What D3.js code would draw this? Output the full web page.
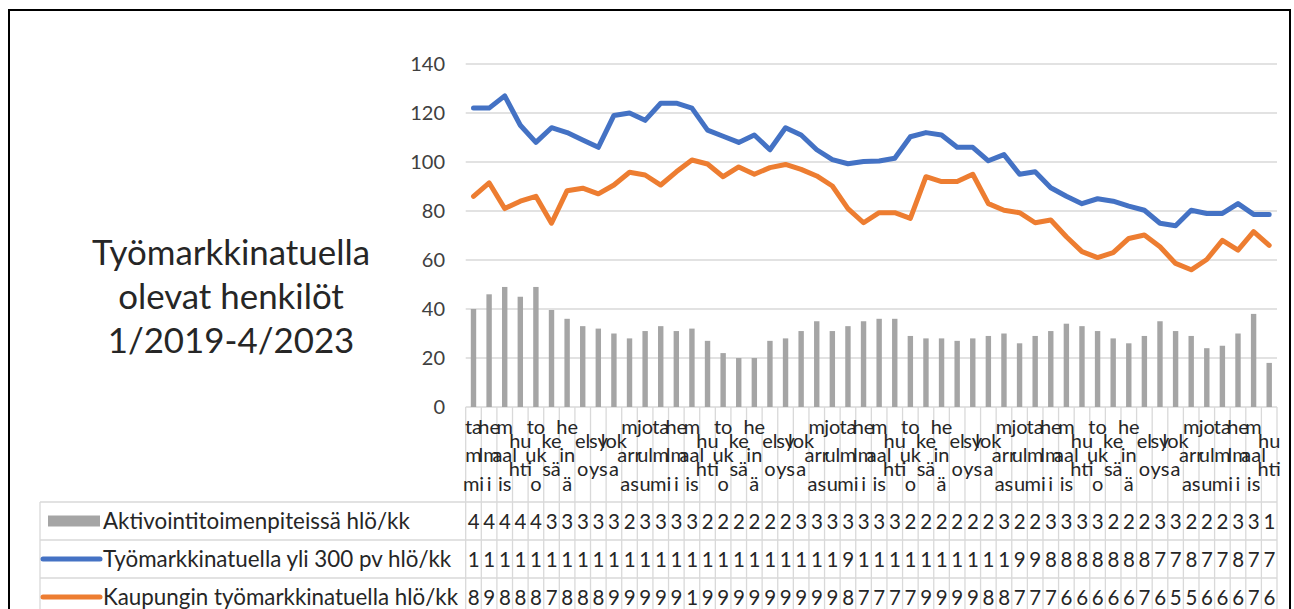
<!DOCTYPE html>
<html><head><meta charset="utf-8">
<script src="https://cdn.jsdelivr.net/npm/d3@7"></script>
<style>
body{margin:0;background:#fff}
svg{display:block}
text{font-family:Lato,"Noto Sans",sans-serif}
</style>
</head><body>
<svg id="c" width="1294" height="609"></svg>
<script>
// ---- data ----
const monthLabels = ["ta|m|mi","he|lm|i","m|aal|is","hu|hti","to|uk|o","ke|sä","he|in|ä","el|o","sy|ys","lok|a","m|arr|as","jo|ul|u"];
const startYear = 2019, monthCount = 52;
const yTicks = [0,20,40,60,80,100,120,140];
const titleLines = ["Työmarkkinatuella","olevat henkilöt","1/2019-4/2023"];
const seriesNames = ["Aktivointitoimenpiteissä hlö/kk","Työmarkkinatuella yli 300 pv hlö/kk","Kaupungin työmarkkinatuella hlö/kk"];
const aktivointi = [40,46,49,45,49,39.6,36,33,32,30,28,31,33,31,32,27,22,20,20,27,28,31,35,31,33,35,36,36,29,28,28,27,28,29,30,26,29,31,34,33,31,28,26,29,35,31,29,24,25,30,38,18];
const yli300 = [122,122,127,115,108,114,112,109,106,119,120,117,124,124,122,113,110.5,108,111,105,114,111,105,101,99.3,100.2,100.4,101.5,110.3,112,111,106,106,100.5,103,95,96,89.5,86,83,85,84,82,80.3,75,74,80.3,79,79,83,78.6,78.6];
const kaupungin = [86,91.5,81,84,86,75,88.3,89.3,87,90.6,95.8,94.7,90.6,96,100.8,99.2,94,98,95,97.7,99,97,94.3,90.2,81,75.2,79.3,79.3,77,94,92,92,95,83,80.3,79.3,75.2,76.3,69.5,63.4,61,63,68.8,70.2,65.4,58.6,56,60.2,68,64,71.6,66];

const colors = {bar:"#a5a5a5", blue:"#4472c4", orange:"#ed7d31", grid:"#d9d9d9", text:"#404040"};

const categories = d3.range(monthCount).map(i => `${i%12+1}/${startYear+Math.floor(i/12)}`);
const catLabel = i => monthLabels[i%12];

const svg = d3.select("#c");
const plotL = 465.7, plotR = 1277, y0 = 407, yTop = 64;
const x = d3.scaleBand().domain(categories).range([plotL, plotR]);
const y = d3.scaleLinear().domain([0,140]).range([y0, yTop]);
const bw = x.bandwidth();
const cx = c => x(c) + bw/2;

// outer border
svg.append("rect").attr("x",9).attr("y",10).attr("width",1281).attr("height",640)
  .attr("fill","none").attr("stroke","#000").attr("stroke-width",2);

// gridlines
svg.append("g").selectAll("line").data(yTicks).join("line")
  .attr("x1",plotL).attr("x2",plotR).attr("y1",d=>y(d)).attr("y2",d=>y(d))
  .attr("stroke",colors.grid).attr("stroke-width",1.3);

// y labels
svg.append("g").selectAll("text").data(yTicks).join("text")
  .attr("x",445).attr("y",d=>y(d)).attr("dy","0.35em").attr("text-anchor","end")
  .attr("font-size",20).attr("fill",colors.text).text(d=>d);

// bars
const barW = 5.4;
svg.append("g").selectAll("rect").data(aktivointi).join("rect")
  .attr("x",(d,i)=>cx(categories[i])-barW/2).attr("width",barW)
  .attr("y",d=>y(d)).attr("height",d=>y0-y(d)).attr("fill",colors.bar);

// lines
const line = d3.line().x((d,i)=>cx(categories[i])).y(d=>y(d));
[[yli300,colors.blue],[kaupungin,colors.orange]].forEach(([data,col])=>{
  svg.append("path").datum(data).attr("d",line).attr("fill","none")
    .attr("stroke",col).attr("stroke-width",5).attr("stroke-linejoin","round").attr("stroke-linecap","round");
});

// ---- data table ----
const tableTop = 502, rowH = 38, tableBottom = 640, legL = 40;
const tg = svg.append("g");
tg.selectAll("line.v").data(d3.range(monthCount+1)).join("line")
  .attr("x1",i=>plotL+i*bw).attr("x2",i=>plotL+i*bw).attr("y1",y0).attr("y2",tableBottom)
  .attr("stroke",colors.grid).attr("stroke-width",1.3);
[0,1,2].forEach(r=>{
  tg.append("line").attr("x1",legL).attr("x2",plotR).attr("y1",tableTop+r*rowH).attr("y2",tableTop+r*rowH)
    .attr("stroke",colors.grid).attr("stroke-width",1.3);
});
tg.append("line").attr("x1",legL).attr("x2",legL).attr("y1",tableTop).attr("y2",tableBottom)
  .attr("stroke",colors.grid).attr("stroke-width",1.3);

// month labels
const lineH = 28.5, labCenter = 455;
categories.forEach((c,i)=>{
  const parts = catLabel(i).split("|");
  const n = parts.length;
  parts.forEach((p,k)=>{
    tg.append("text").attr("x",cx(c)).attr("y",labCenter+(k-(n-1)/2)*lineH).attr("dy","0.35em")
      .attr("text-anchor","middle").attr("font-size",20).attr("fill","#262626").text(p);
  });
});

// clip paths per column (cell shows only what fits, as in the reference)
const defs = svg.append("defs");
categories.forEach((c,i)=>{
  defs.append("clipPath").attr("id","cl"+i).append("rect")
    .attr("x",x(c)+0.7).attr("y",tableTop).attr("width",13.2).attr("height",tableBottom-tableTop);
});
const rows = [aktivointi, yli300, kaupungin];
rows.forEach((data,r)=>{
  data.forEach((v,i)=>{
    tg.append("text").attr("clip-path",`url(#cl${i})`)
      .attr("x",x(categories[i])+2).attr("y",tableTop+r*rowH+rowH/2+1).attr("dy","0.35em")
      .attr("font-size",20.5).attr("letter-spacing",2).attr("fill","#262626").text(String(v).replace(".",","));
  });
});

// legend keys + names
const legX = 103;
let legFs = 20;
seriesNames.forEach((nm,r)=>{
  const cy = tableTop + r*rowH + rowH/2;
  if(r===0){
    tg.append("rect").attr("x",48).attr("y",cy-5.5).attr("width",52).attr("height",11).attr("fill",colors.bar);
  } else {
    tg.append("line").attr("x1",43).attr("x2",100).attr("y1",cy).attr("y2",cy)
      .attr("stroke",r===1?colors.blue:colors.orange).attr("stroke-width",5).attr("stroke-linecap","round");
  }
  const t = tg.append("text").attr("x",legX).attr("y",cy).attr("dy","0.35em")
    .attr("font-size",20).attr("fill","#262626").text(nm);
  if(r===0){
    const w = t.node().getComputedTextLength();
    legFs = 20*307/w;
  }
  t.attr("font-size",legFs);
});

// title
const titleG = svg.append("g");
const tys = [253,297,341];
let tfs = 28;
titleLines.forEach((s,k)=>{
  const t = titleG.append("text").attr("x",231).attr("y",tys[k]).attr("dy","0.35em")
    .attr("text-anchor","middle").attr("font-size",tfs).attr("fill","#262626").text(s);
  if(k===0){
    const w = t.node().getComputedTextLength();
    tfs = 28*278/w;
  }
  t.attr("font-size",tfs);
});
</script>
</body></html>
